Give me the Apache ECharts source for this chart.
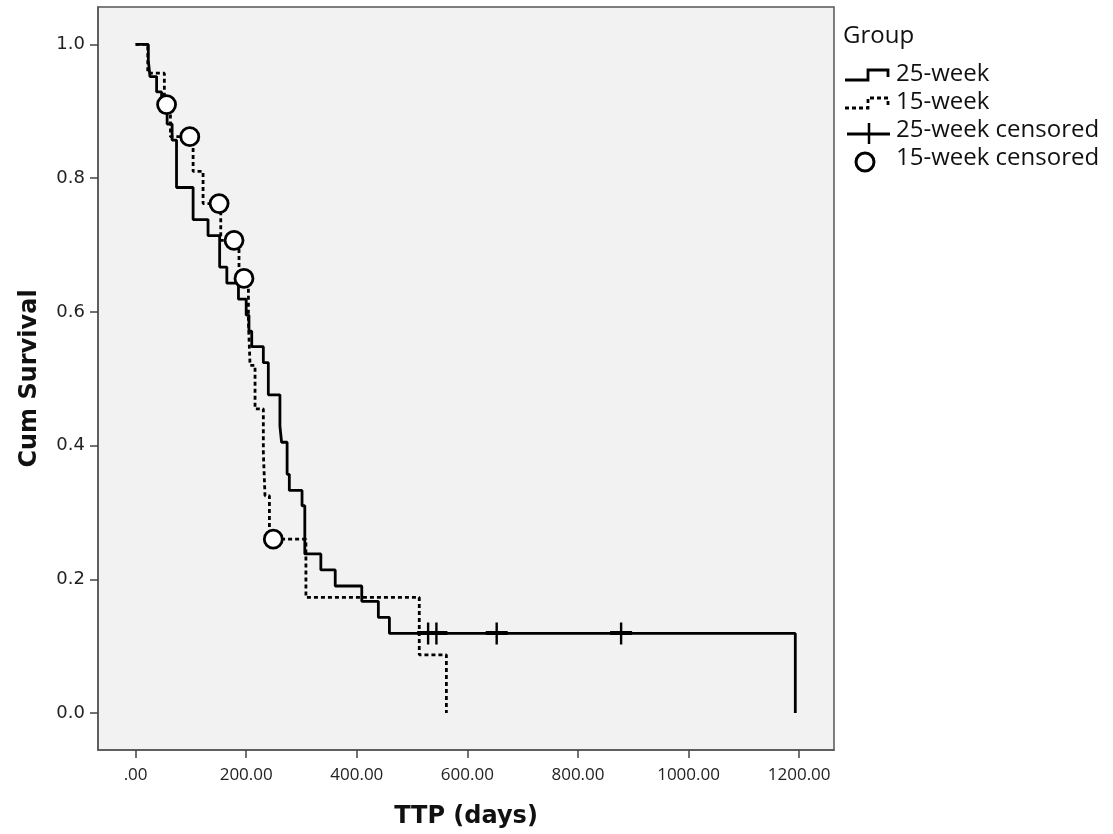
<!DOCTYPE html>
<html>
<head>
<meta charset="utf-8">
<script src="https://cdn.jsdelivr.net/npm/echarts@6/dist/echarts.min.js"></script>
<style>
html,body{margin:0;padding:0;background:#fff;}
#chart{width:1113px;height:834px;}
</style>
</head>
<body>
<div id="chart"></div>
<script>
// ---- Data ----
const groupNames = ['25-week', '15-week', '25-week censored', '15-week censored'];

// 25-week group: step times (days) and survival after each step
const times25 = [0, 23, 26, 38, 47, 57, 66, 74, 104, 131, 152, 165, 186, 200, 205, 210, 231, 240, 261, 264, 274, 278, 301, 306, 335, 361, 409, 439, 459, 1193];
const surv25  = [1, 0.976, 0.952, 0.929, 0.905, 0.881, 0.857, 0.786, 0.738, 0.714, 0.667, 0.643, 0.619, 0.595, 0.571, 0.548, 0.524, 0.476, 0.429, 0.405, 0.357, 0.333, 0.310, 0.238, 0.214, 0.190, 0.167, 0.143, 0.119, 0];

// 15-week group
const times15 = [0, 22, 52, 63, 104, 122, 154, 187, 204, 207, 216, 231, 234, 242, 308, 513, 562];
const surv15  = [1, 0.957, 0.91, 0.862, 0.81, 0.762, 0.707, 0.65, 0.585, 0.52, 0.455, 0.39, 0.325, 0.26, 0.173, 0.087, 0];

// censored observations
const cens25Times = [529, 544, 653, 878];
const cens25Surv  = [0.119, 0.119, 0.119, 0.119];
const cens15Times = [56, 98, 151, 178, 196, 249];
const cens15Surv  = [0.91, 0.862, 0.762, 0.707, 0.65, 0.26];

// ticks
const xTickValues = [0, 200, 400, 600, 800, 1000, 1200];
const xTickLabels = ['.00', '200.00', '400.00', '600.00', '800.00', '1000.00', '1200.00'];
const yTickValues = [0, 0.2, 0.4, 0.6, 0.8, 1.0];
const yTickLabels = ['0.0', '0.2', '0.4', '0.6', '0.8', '1.0'];

const zip = (a, b) => a.map((v, i) => [v, b[i]]);

const chart = echarts.init(document.getElementById('chart'), null, {renderer: 'canvas'});

const plusPath = 'path://M0,8.5 H22 V12.5 H0 Z M9.8,0 H12.2 V22 H9.8 Z';

const legendX = 845;
const legendTextX = 896;
const legendFont = '24px "Open Sans"';

const option = {
  backgroundColor: '#ffffff',
  animation: false,
  grid: {
    left: 98, top: 7, width: 736, height: 744,
    show: true, backgroundColor: '#f2f2f2', borderColor: '#555555', borderWidth: 1.5,
    containLabel: false
  },
  xAxis: {
    type: 'value', min: -68, max: 1263,
    name: 'TTP (days)', nameLocation: 'middle', nameGap: 55,
    nameTextStyle: {fontFamily: 'DejaVu Sans', fontWeight: 'bold', fontSize: 24, color: '#111'},
    splitLine: {show: false},
    axisLine: {show: true, onZero: false, lineStyle: {color: '#555', width: 1.5}},
    axisTick: {show: true, length: 8, customValues: xTickValues, lineStyle: {color: '#444', width: 1.5}},
    axisLabel: {
      customValues: xTickValues, margin: 17,
      fontFamily: 'Open Sans', fontSize: 17, color: '#222',
      formatter: v => { const i = xTickValues.indexOf(v); return i >= 0 ? xTickLabels[i] : ''; }
    }
  },
  yAxis: {
    type: 'value', min: -0.0553, max: 1.056,
    name: 'Cum Survival', nameLocation: 'middle', nameGap: 56, nameRotate: 90,
    nameTextStyle: {fontFamily: 'DejaVu Sans', fontWeight: 'bold', fontSize: 24, color: '#111'},
    splitLine: {show: false},
    axisLine: {show: true, onZero: false, lineStyle: {color: '#555', width: 1.5}},
    axisTick: {show: true, length: 8, customValues: yTickValues, lineStyle: {color: '#444', width: 1.5}},
    axisLabel: {
      customValues: yTickValues, margin: 13,
      fontFamily: 'DejaVu Sans', fontSize: 18, color: '#222',
      formatter: v => { let best = 0; yTickValues.forEach((t, i) => { if (Math.abs(t - v) < Math.abs(yTickValues[best] - v)) best = i; }); return yTickLabels[best]; }
    }
  },
  series: [
    {
      name: groupNames[1], type: 'line', step: 'end', symbol: 'none', z: 2,
      data: zip(times15, surv15),
      lineStyle: {color: '#000', width: 2.8, type: [4, 3]}
    },
    {
      name: groupNames[0], type: 'line', step: 'end', symbol: 'none', z: 3,
      data: zip(times25, surv25),
      lineStyle: {color: '#000', width: 2.8, type: 'solid'}
    },
    {
      name: groupNames[2], type: 'scatter', z: 4,
      symbol: plusPath, symbolSize: 22,
      itemStyle: {color: '#000', opacity: 1},
      data: zip(cens25Times, cens25Surv)
    },
    {
      name: groupNames[3], type: 'scatter', z: 5,
      symbol: 'circle', symbolSize: 18,
      itemStyle: {color: '#fff', borderColor: '#000', borderWidth: 2.8, opacity: 1},
      data: zip(cens15Times, cens15Surv)
    }
  ],
  graphic: [
    {type: 'text', left: 843, top: 24, style: {text: 'Group', font: legendFont, fill: '#111'}},
    // 25-week icon
    {type: 'polyline', shape: {points: [[legendX, 80], [legendX + 23, 80], [legendX + 23, 70], [legendX + 43, 70], [legendX + 43, 77]]},
     style: {stroke: '#000', lineWidth: 2.8, fill: null}},
    {type: 'text', left: legendTextX, top: 62, style: {text: groupNames[0], font: legendFont, fill: '#111'}},
    // 15-week icon
    {type: 'polyline', shape: {points: [[legendX, 108], [legendX + 23, 108], [legendX + 23, 98], [legendX + 43, 98], [legendX + 43, 105]]},
     style: {stroke: '#000', lineWidth: 2.8, fill: null, lineDash: [4, 3]}},
    {type: 'text', left: legendTextX, top: 90, style: {text: groupNames[1], font: legendFont, fill: '#111'}},
    // 25-week censored icon
    {type: 'line', shape: {x1: legendX + 2, y1: 134, x2: legendX + 45, y2: 134}, style: {stroke: '#000', lineWidth: 3}},
    {type: 'line', shape: {x1: legendX + 24, y1: 123, x2: legendX + 24, y2: 144}, style: {stroke: '#000', lineWidth: 2.5}},
    {type: 'text', left: legendTextX, top: 118, style: {text: groupNames[2], font: legendFont, fill: '#111'}},
    // 15-week censored icon
    {type: 'circle', shape: {cx: legendX + 20, cy: 162, r: 9}, style: {stroke: '#000', lineWidth: 3, fill: '#fff'}},
    {type: 'text', left: legendTextX, top: 146, style: {text: groupNames[3], font: legendFont, fill: '#111'}}
  ]
};

chart.setOption(option);
</script>
</body>
</html>
